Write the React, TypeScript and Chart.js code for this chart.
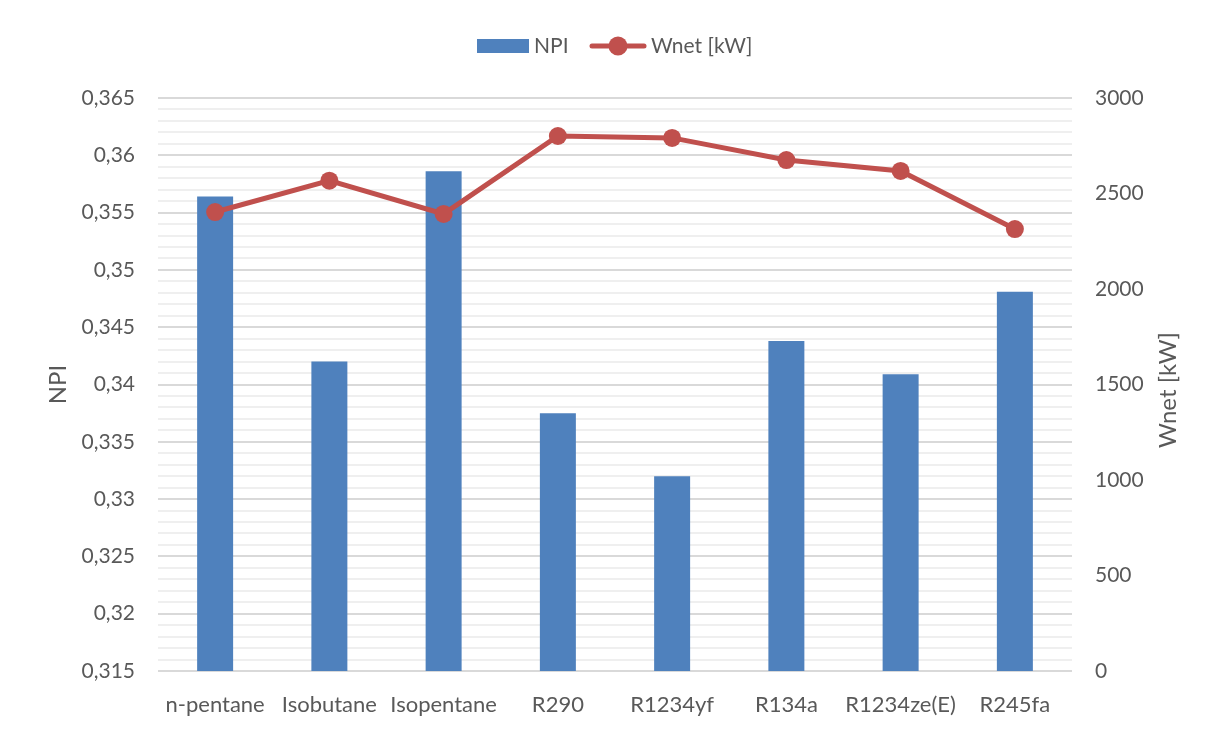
import React, { useEffect, useRef } from "react";
import { Chart, registerables } from "chart.js";

Chart.register(...registerables);

const categories = ["n-pentane", "Isobutane", "Isopentane", "R290", "R1234yf", "R134a", "R1234ze(E)", "R245fa"];
const npiValues = [0.3564, 0.342, 0.3586, 0.3375, 0.332, 0.3438, 0.3409, 0.3481];
const wnetValues = [2403, 2567, 2393, 2801, 2791, 2675, 2618, 2314];
const seriesNames = ["NPI", "Wnet [kW]"];
const axisTitles = ["NPI", "Wnet [kW]"];

const BLUE = "#4F81BD";
const RED = "#C0504D";
const TEXT = "#595959";
const FONT = "Lato, 'Open Sans', sans-serif";

const isMajor = (v: number) => Math.round(v * 1000) % 5 === 0;
const fmtNpi = (v: number) => (Math.round(v * 1000) / 1000).toString().replace(".", ",");

const overlayPlugin = {
  id: "overlay",
  afterDraw(chart: any) {
    const ctx = chart.ctx as CanvasRenderingContext2D;
    ctx.save();
    // legend
    ctx.font = `21px ${FONT}`;
    ctx.fillStyle = TEXT;
    ctx.textBaseline = "middle";
    ctx.textAlign = "left";
    const cy = 38;
    ctx.fillStyle = BLUE;
    ctx.fillRect(469, cy - 7, 52, 14);
    ctx.fillStyle = TEXT;
    ctx.fillText(seriesNames[0], 526, cy);
    ctx.strokeStyle = RED;
    ctx.lineWidth = 5;
    ctx.lineCap = "round";
    ctx.beginPath();
    ctx.moveTo(584, cy);
    ctx.lineTo(636, cy);
    ctx.stroke();
    ctx.fillStyle = RED;
    ctx.beginPath();
    ctx.arc(610, cy, 9.5, 0, Math.PI * 2);
    ctx.fill();
    ctx.fillStyle = TEXT;
    ctx.fillText(seriesNames[1], 643, cy);
    // right axis title
    ctx.font = `24px ${FONT}`;
    ctx.translate(1160, 382);
    ctx.rotate(-Math.PI / 2);
    ctx.textAlign = "center";
    ctx.fillText(axisTitles[1], 0, 0);
    ctx.restore();
  },
};

export default function App() {
  const ref = useRef<HTMLCanvasElement | null>(null);

  useEffect(() => {
    if (!ref.current) return;
    const chart = new Chart(ref.current, {
      type: "bar",
      data: {
        labels: categories,
        datasets: [
          {
            type: "line",
            label: seriesNames[1],
            data: wnetValues,
            yAxisID: "y2",
            borderColor: RED,
            backgroundColor: RED,
            borderWidth: 5,
            pointRadius: 9,
            pointBackgroundColor: RED,
            pointBorderColor: RED,
            pointBorderWidth: 0,
            tension: 0,
            order: 0,
          } as any,
          {
            type: "bar",
            label: seriesNames[0],
            data: npiValues,
            yAxisID: "y",
            backgroundColor: BLUE,
            barPercentage: 0.315,
            categoryPercentage: 1,
            order: 1,
          } as any,
        ],
      },
      options: {
        responsive: false,
        animation: false,
        devicePixelRatio: 1,
        layout: { padding: { top: 90, left: 0, right: 0, bottom: 0 } },
        plugins: {
          legend: { display: false },
          tooltip: { enabled: false },
        },
        scales: {
          x: {
            grid: { display: false },
            border: { display: false },
            ticks: { color: TEXT, font: { family: FONT, size: 22 }, padding: 13, maxRotation: 0, autoSkip: false },
            afterFit: (s: any) => {
              s.height = 60;
            },
          },
          y: {
            position: "left",
            min: 0.315,
            max: 0.365,
            border: { display: false },
            grid: {
              drawTicks: false,
              color: (c: any) => (isMajor(c.tick.value) ? "#d9d9d9" : "#efefef"),
              lineWidth: 2,
            },
            ticks: {
              stepSize: 0.001,
              maxTicksLimit: 100,
              autoSkip: false,
              padding: 23,
              color: TEXT,
              font: { family: FONT, size: 21 },
              callback: (v: any) => (isMajor(Number(v)) ? fmtNpi(Number(v)) : ""),
            },
            title: {
              display: true,
              text: axisTitles[0],
              color: TEXT,
              font: { family: FONT, size: 24 },
              padding: { top: 36, bottom: 0 },
            },
            afterFit: (s: any) => {
              s.width = 150;
            },
          },
          y2: {
            position: "right",
            min: 0,
            max: 3000,
            border: { display: false },
            grid: { display: false, drawTicks: false },
            ticks: {
              stepSize: 500,
              padding: 23,
              color: TEXT,
              font: { family: FONT, size: 21 },
              callback: (v: any) => String(v),
            },
            afterFit: (s: any) => {
              s.width = 141;
            },
          },
        },
      },
      plugins: [overlayPlugin],
    } as any);
    return () => chart.destroy();
  }, []);

  return (
    <div style={{ position: "relative", width: 1205, height: 723 }}>
      <div
        style={{
          position: "absolute",
          left: -2,
          top: -2,
          width: 1207,
          height: 725,
          boxSizing: "border-box",
          borderLeft: "2px solid #d9d9d9",
          borderTop: "2px solid #d9d9d9",
          pointerEvents: "none",
        }}
      />
      <canvas ref={ref} width={1205} height={723} style={{ display: "block" }} />
    </div>
  );
}
